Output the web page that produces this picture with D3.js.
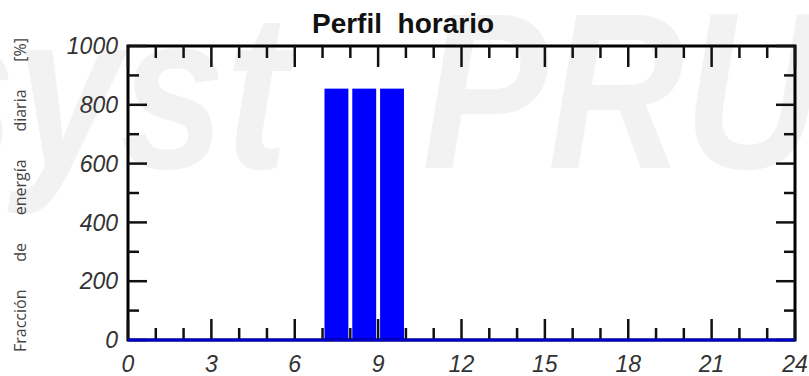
<!DOCTYPE html>
<html>
<head>
<meta charset="utf-8">
<script src="https://cdn.jsdelivr.net/npm/d3@7"></script>
<style>
  html, body { margin: 0; padding: 0; background: #fff; }
  svg { display: block; }
</style>
</head>
<body>
<svg id="chart" width="809" height="376"></svg>
<script>
// Hourly profile: share of daily energy per hour of the day
const hours = d3.range(0, 24);
const fraction = [0, 0, 0, 0, 0, 0, 0, 855, 855, 855, 0, 0,
                  0, 0, 0, 0, 0, 0, 0, 0, 0, 0, 0, 0];
const xTickLabels = [0, 3, 6, 9, 12, 15, 18, 21, 24];
const yTickLabels = [0, 200, 400, 600, 800, 1000];
const titleText = "Perfil  horario";
const yLabelWords = ["Fracción", "de", "energía", "diaria", "[%]"];
const watermarkLeft = "PVsyst";
const watermarkRight = "PRUEBA";

const svg = d3.select("#chart");
const W = 809, H = 376;
const m = { left: 128, right: 14, top: 46, bottom: 36 };
const x = d3.scaleLinear().domain([0, 24]).range([m.left, W - m.right]);
const y = d3.scaleLinear().domain([0, 1000]).range([H - m.bottom, m.top]);

// faint background watermark (slightly condensed)
const wm = svg.append("g")
  .attr("fill", "#f2f2f2")
  .attr("font-family", "Liberation Sans, Arial, sans-serif")
  .attr("font-style", "italic")
  .attr("font-weight", "bold")
  .attr("font-size", 222);
wm.append("text").attr("transform", "translate(288,168) scale(0.85,1)")
  .attr("text-anchor", "end").text(watermarkLeft);
wm.append("text").attr("transform", "translate(422,168) scale(0.85,1)")
  .attr("text-anchor", "start").text(watermarkRight);

// title
svg.append("text")
  .attr("x", 403).attr("y", 33)
  .attr("text-anchor", "middle")
  .attr("font-family", "Liberation Sans, Arial, sans-serif")
  .attr("font-weight", "bold")
  .attr("font-size", 28)
  .attr("fill", "#111")
  .style("white-space", "pre")
  .text(titleText);

// bars
const barInset = 0.07, barWidth = 0.86;
svg.append("g")
  .selectAll("rect")
  .data(hours.filter(h => fraction[h] > 0))
  .join("rect")
  .attr("x", h => x(h + barInset))
  .attr("width", h => x(h + barInset + barWidth) - x(h + barInset))
  .attr("y", h => y(fraction[h]))
  .attr("height", h => y(0) - y(fraction[h]))
  .attr("fill", "#0000ff");

// frame
svg.append("rect")
  .attr("x", x(0)).attr("y", y(1000))
  .attr("width", x(24) - x(0)).attr("height", y(0) - y(1000))
  .attr("fill", "none").attr("stroke", "#000").attr("stroke-width", 3);

// inward ticks on all four sides
const tg = svg.append("g").attr("stroke", "#111").attr("stroke-width", 2.5);
d3.range(0, 25).forEach(v => {
  const len = v % 3 === 0 ? 21 : 12;
  tg.append("line").attr("x1", x(v)).attr("x2", x(v)).attr("y1", y(0)).attr("y2", y(0) - len);
  tg.append("line").attr("x1", x(v)).attr("x2", x(v)).attr("y1", y(1000)).attr("y2", y(1000) + len);
});
d3.range(0, 1001, 100).forEach(v => {
  const len = v % 200 === 0 ? 19 : 11;
  tg.append("line").attr("x1", x(0)).attr("x2", x(0) + len).attr("y1", y(v)).attr("y2", y(v));
  tg.append("line").attr("x1", x(24)).attr("x2", x(24) - len).attr("y1", y(v)).attr("y2", y(v));
});

// zero-level profile line along the base
const line = d3.line().curve(d3.curveStepAfter).x(d => x(d[0])).y(d => y(d[1]));
const basePts = hours.map(h => [h, 0]).concat([[24, 0]]);
svg.append("path")
  .attr("d", line(basePts))
  .attr("fill", "none").attr("stroke", "#0000cc").attr("stroke-width", 3);

// tick labels
const labelFont = "Liberation Sans, Arial, sans-serif";
svg.append("g")
  .selectAll("text")
  .data(xTickLabels)
  .join("text")
  .attr("x", d => x(d)).attr("y", 372)
  .attr("text-anchor", "middle")
  .attr("font-family", labelFont).attr("font-style", "italic")
  .attr("font-size", 23).attr("fill", "#333")
  .text(d => d);
svg.append("g")
  .selectAll("text")
  .data(yTickLabels)
  .join("text")
  .attr("x", 118).attr("y", d => y(d))
  .attr("dy", "0.36em")
  .attr("text-anchor", "end")
  .attr("font-family", labelFont).attr("font-style", "italic")
  .attr("font-size", 23).attr("fill", "#333")
  .text(d => d);

// y-axis title, words justified along the axis height
const yl = svg.append("g")
  .attr("transform", "translate(26,0) rotate(-90)")
  .attr("font-family", "Open Sans, sans-serif")
  .attr("font-size", 16)
  .attr("fill", "#444");
const words = yl.selectAll("text").data(yLabelWords).join("text").text(d => d);
const widths = [];
words.each(function () { widths.push(this.getComputedTextLength()); });
const spanStart = -352, spanEnd = -38;
const gap = ((spanEnd - spanStart) - d3.sum(widths)) / (yLabelWords.length - 1);
let pos = spanStart;
words.attr("x", (d, i) => { const p = pos; pos += widths[i] + gap; return p; })
  .attr("y", 0);
</script>
</body>
</html>
